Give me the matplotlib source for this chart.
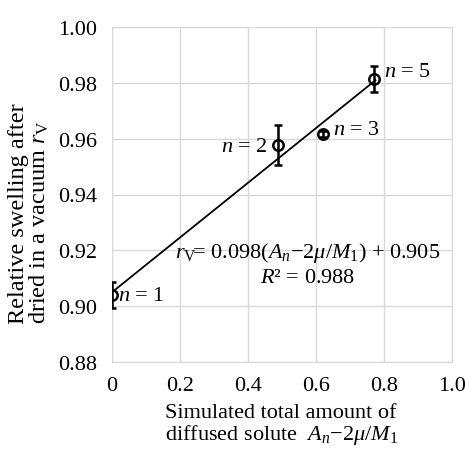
import matplotlib
matplotlib.use("Agg")
import matplotlib.pyplot as plt

plt.rcParams['font.family'] = ['Liberation Serif', 'DejaVu Serif']
plt.rcParams['mathtext.fontset'] = 'custom'
plt.rcParams['mathtext.rm'] = 'Liberation Serif'
plt.rcParams['mathtext.it'] = 'Liberation Serif:italic'

# datos
x = [0.0, 0.488, 0.621, 0.771]
y = [0.904, 0.9577, 0.9617, 0.9814]
yerr = [0.0047, 0.0073, 0.0012, 0.0045]
etiquetas = ['$n$ = 1', '$n$ = 2', '$n$ = 3', '$n$ = 5']
pendiente = 0.098
intercepto = 0.905
x_ajuste = [0.0, 0.775]
xticks = [0, 0.2, 0.4, 0.6, 0.8, 1.0]
xtick_labels = ['0', '0.2', '0.4', '0.6', '0.8', '1.0']
yticks = [0.88, 0.90, 0.92, 0.94, 0.96, 0.98, 1.00]

fig = plt.figure(figsize=(4.65, 4.6), dpi=100)
ax = fig.add_axes([0.241, 0.211, 0.731, 0.728])

y_ajuste = [pendiente * v + intercepto for v in x_ajuste]
ax.plot(x_ajuste, y_ajuste, color='black', lw=1.3)
ax.errorbar(x, y, yerr=yerr, fmt='o', mfc='none', mec='black', ms=7.5, mew=1.8,
            ecolor='black', elinewidth=1.8, capsize=3, capthick=1.8, zorder=3)

# etiquetas de los puntos
fs = 16
ax.text(x[0] + 0.018, y[0] - 0.0003, etiquetas[0], fontsize=fs, va='center', ha='left')
ax.text(x[1] - 0.03, y[1] - 0.0005, etiquetas[1], fontsize=fs, va='center', ha='right')
ax.text(x[2] + 0.03, y[2] + 0.0015, etiquetas[2], fontsize=fs, va='center', ha='left')
ax.text(x[3] + 0.03, y[3] + 0.0025, etiquetas[3], fontsize=fs, va='center', ha='left')

ax.text(0.574, 0.9194, r'$r_{\mathrm{V}}\!$= 0.098($A_n$$-$2$\mu$/$M_1$) + 0.905',
        fontsize=fs, ha='center', va='center')
ax.text(0.574, 0.9101, '$R$² = 0.988', fontsize=fs, ha='center', va='center')

ax.set_xlim(0, 1.0)
ax.set_ylim(0.88, 1.00)
ax.set_xticks(xticks)
ax.set_xticklabels(xtick_labels)
ax.set_yticks(yticks)
ax.set_yticklabels(['%.2f' % v for v in yticks])
ax.tick_params(axis='y', length=0, labelsize=fs, pad=11)
ax.tick_params(axis='x', length=0, labelsize=fs, pad=10)
ax.grid(True, color='#d9d9d9', lw=1)
ax.set_axisbelow(True)
for s in ax.spines.values():
    s.set_color('#d9d9d9')

ax.set_xlabel('Simulated total amount of\ndiffused solute  $A_n$$-$2$\\mu$/$M_1$',
              fontsize=fs, multialignment='left', labelpad=6, linespacing=1.0)
ax.set_ylabel('Relative swelling after\ndried in a vacuum $r_{\\mathrm{V}}$',
              fontsize=17.5, multialignment='left', linespacing=0.9)
ax.yaxis.set_label_coords(-0.18, 0.445)

fig.savefig('out.png', dpi=100)
